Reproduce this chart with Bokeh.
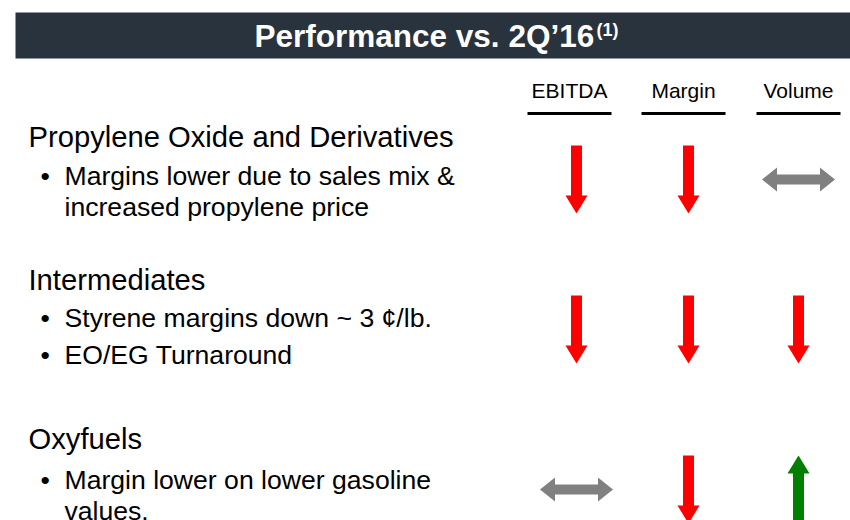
from bokeh.plotting import figure
from bokeh.models import Range1d
from bokeh.core.properties import value
from bokeh.embed import file_html
from bokeh.resources import INLINE

# ---------------- data ----------------
title_text = "Performance vs. 2Q\u201916"
title_note = "(1)"
metrics = ["EBITDA", "Margin", "Volume"]
segments = ["Propylene Oxide and Derivatives", "Intermediates", "Oxyfuels"]
segment_bullets = [
    [["Margins lower due to sales mix &", "increased propylene price"]],
    [["Styrene margins down ~ 3 \u00a2/lb."], ["EO/EG Turnaround"]],
    [["Margin lower on lower gasoline", "values."]],
]
# direction vs. prior period: -1 lower, 0 flat, +1 higher  (EBITDA, Margin, Volume)
po_dir = [-1, -1, 0]
int_dir = [-1, -1, -1]
oxy_dir = [0, -1, 1]
directions = [po_dir, int_dir, oxy_dir]

# ---------------- layout / style ----------------
W, H = 850, 520
FONT = value("Liberation Sans")
col_centers = [576, 688, 798]
head_centers = [569, 683, 798]
row_centers = [179, 329, 489]
heading_base = [147, 290, 449]
colors = {-1: "#ff0000", 0: "#808080", 1: "#008000"}

p = figure(width=W, height=H, output_backend="svg", toolbar_location=None,
           x_range=Range1d(0, W), y_range=Range1d(H, 0),
           x_axis_location=None, y_axis_location=None, min_border=0,
           background_fill_color="white", border_fill_color="white")
p.outline_line_color = None
p.xgrid.visible = False
p.ygrid.visible = False

# title bar
p.quad(left=[15], right=[W + 5], top=[12], bottom=[58], fill_color="#28333d", line_color=None)
p.text(x=[254], y=[46], text=[title_text], text_font=FONT, text_font_size="31.5px",
       text_font_style="bold", text_color="white", text_baseline="alphabetic", text_align="left",
       y_offset=-11)
p.text(x=[596], y=[37], text=[title_note], text_font=FONT, text_font_size="18px",
       text_font_style="bold", text_color="white", text_baseline="alphabetic", text_align="left",
       y_offset=-8)

# column headers + underlines
p.text(x=head_centers, y=[99] * 3, text=metrics, text_font=FONT, text_font_size="21px",
       text_color="black", text_baseline="alphabetic", text_align="center", y_offset=-9)
p.segment(x0=[c - 42 for c in head_centers], x1=[c + 42 for c in head_centers],
          y0=[113] * 3, y1=[113] * 3, line_color="black", line_width=3)

# left texts
hx, bx, tx = 28, 40, 64
lines_x, lines_y, lines_t = [], [], []
bul_x, bul_y = [], []
bullet_gap = [38, 37, 40]
sub_x, sub_y, sub_t = [], [], []
for i, seg in enumerate(segments):
    lines_x.append(hx); lines_y.append(heading_base[i]); lines_t.append(seg)
    y = heading_base[i] + bullet_gap[i]
    for b in segment_bullets[i]:
        bul_x.append(bx); bul_y.append(y)
        for k, ln in enumerate(b):
            sub_x.append(tx); sub_y.append(y); sub_t.append(ln)
            y += 31
        y += 6

p.text(x=sub_x, y=sub_y, text=sub_t, text_font=FONT, text_font_size="26.6px",
       text_color="black", text_baseline="alphabetic", text_align="left", y_offset=-10)
p.text(x=lines_x, y=lines_y, text=lines_t, text_font=FONT, text_font_size="29.2px",
       text_color="black", text_baseline="alphabetic", text_align="left", y_offset=-11)
p.text(x=bul_x, y=bul_y, text=["\u2022"] * len(bul_x), text_font=FONT, text_font_size="26.6px",
       text_color="black", text_baseline="alphabetic", text_align="left", y_offset=-10)

# arrows
def arrow(d, cx, cy):
    if d == 0:
        L, t, hh, hl = 36.5, 5, 12, 15
        l, r = cx - L, cx + L
        xs = [l, l + hl, l + hl, r - hl, r - hl, r, r - hl, r - hl, l + hl, l + hl]
        ys = [cy, cy - hh, cy - t, cy - t, cy - hh, cy, cy + hh, cy + t, cy + t, cy + hh]
        return xs, ys
    L, sw, hw, hl = 34, 5.5, 11, 18
    s = 1 if d < 0 else -1  # down: tip at larger y (screen)
    tail, tip = cy - s * L, cy + s * L
    hb = tip - s * hl
    xs = [cx - sw, cx + sw, cx + sw, cx + hw, cx, cx - hw, cx - sw]
    ys = [tail, tail, hb, hb, tip, hb, hb]
    return xs, ys

pxs, pys, pcs = [], [], []
for i, row in enumerate(directions):
    for j, d in enumerate(row):
        xs, ys = arrow(d, col_centers[j], row_centers[i])
        pxs.append(xs); pys.append(ys); pcs.append(colors[d])
p.patches(xs=pxs, ys=pys, fill_color=pcs, line_color=None)

open("out.html", "w").write(file_html(p, INLINE))
